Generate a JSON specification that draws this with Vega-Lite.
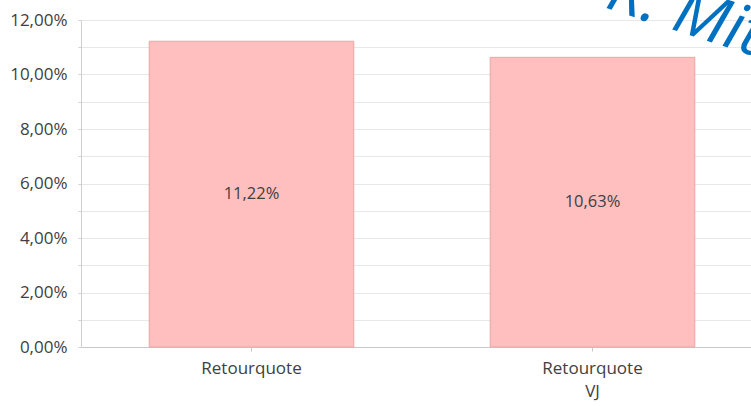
{
  "$schema": "https://vega.github.io/schema/vega-lite/v6.json",
  "autosize": {"type": "none"},
  "padding": {"left": 81, "top": 20, "right": 0, "bottom": 59},
  "width": 682,
  "height": 327,
  "background": "white",
  "config": {
    "view": {"stroke": null},
    "font": "Open Sans",
    "axisX": {
      "title": null, "labelAngle": 0, "labelPadding": 9, "labelLineHeight": 23,
      "labelFont": "Open Sans", "labelFontSize": 17, "labelColor": "#404040",
      "domainColor": "#c8c8c8", "tickColor": "#c8c8c8", "tickSize": 4,
      "labelBaseline": "top", "grid": false
    },
    "axisY": {
      "title": null,
      "labelFont": "Open Sans", "labelFontSize": 17, "labelColor": "#404040",
      "gridColor": "#e8e8e8", "domainColor": "#d0d0d0", "tickColor": "#d0d0d0",
      "tickSize": 3, "labelPadding": 11
    }
  },
  "datasets": {
    "bars": [
      {"kategorie": "Retourquote", "quote": 0.1122, "text": "11,22%"},
      {"kategorie": "Retourquote VJ", "quote": 0.1063, "text": "10,63%"}
    ],
    "marke": [
      {"kategorie": "Retourquote VJ", "quote": 0.126, "text": "R: Mit"}
    ]
  },
  "layer": [
    {
      "data": {"name": "bars"},
      "mark": {"type": "bar", "width": {"band": 0.6}, "color": "#FFBFBF", "stroke": "#EDA5A5", "strokeWidth": 1},
      "encoding": {
        "x": {
          "field": "kategorie", "type": "nominal", "sort": null,
          "scale": {"paddingInner": 0, "paddingOuter": 0},
          "axis": {"labelExpr": "split(datum.label, ' ')"}
        },
        "y": {
          "field": "quote", "type": "quantitative",
          "scale": {"domain": [0, 0.12], "nice": false},
          "axis": {
            "values": [0, 0.01, 0.02, 0.03, 0.04, 0.05, 0.06, 0.07, 0.08, 0.09, 0.1, 0.11, 0.12],
            "labelExpr": "round(datum.value*100) % 2 == 0 ? replace(format(datum.value, '.2%'), '.', ',') : ''"
          }
        }
      }
    },
    {
      "data": {"name": "bars"},
      "transform": [{"calculate": "datum.quote / 2", "as": "mitte"}],
      "mark": {"type": "text", "fontSize": 16.5, "color": "#404040", "font": "Open Sans"},
      "encoding": {
        "x": {"field": "kategorie", "type": "nominal", "sort": null,
          "axis": {"labelExpr": "split(datum.label, ' ')"}},
        "y": {"field": "mitte", "type": "quantitative",
          "axis": {
            "values": [0, 0.01, 0.02, 0.03, 0.04, 0.05, 0.06, 0.07, 0.08, 0.09, 0.1, 0.11, 0.12],
            "labelExpr": "round(datum.value*100) % 2 == 0 ? replace(format(datum.value, '.2%'), '.', ',') : ''"
          }},
        "text": {"field": "text"}
      }
    },
    {
      "data": {"name": "marke"},
      "mark": {"type": "text", "fontSize": 64, "fontStyle": "italic", "color": "#0070C0", "font": "Open Sans", "align": "left", "baseline": "alphabetic", "angle": 18, "dx": 12},
      "encoding": {
        "x": {"field": "kategorie", "type": "nominal", "sort": null,
          "axis": {"labelExpr": "split(datum.label, ' ')"}},
        "y": {"field": "quote", "type": "quantitative",
          "axis": {
            "values": [0, 0.01, 0.02, 0.03, 0.04, 0.05, 0.06, 0.07, 0.08, 0.09, 0.1, 0.11, 0.12],
            "labelExpr": "round(datum.value*100) % 2 == 0 ? replace(format(datum.value, '.2%'), '.', ',') : ''"
          }},
        "text": {"field": "text"}
      }
    }
  ]
}
